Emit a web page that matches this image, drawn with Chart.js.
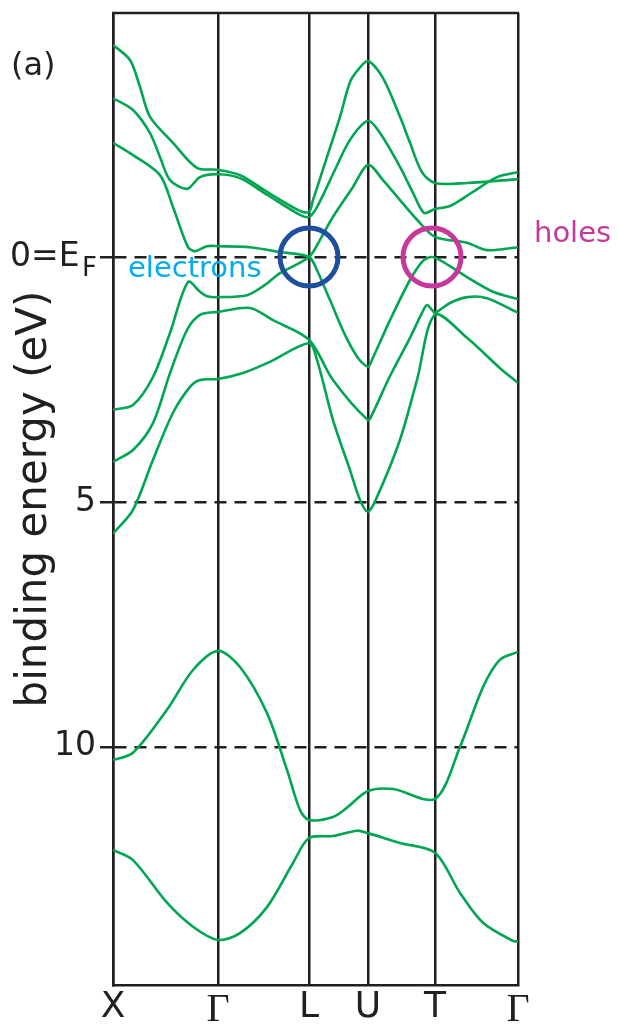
<!DOCTYPE html>
<html>
<head>
<meta charset="utf-8">
<script src="https://cdn.jsdelivr.net/npm/chart.js@4/dist/chart.umd.min.js"></script>
<style>
  body { margin: 0; background: #fff; }
  #wrap { width: 618px; height: 1024px; }
</style>
</head>
<body>
<div id="wrap"><canvas id="bands" width="618" height="1024"></canvas></div>
<script>
// k-path (arbitrary path length units) and labels
const kPos = [0, 105, 196, 255, 322, 405];
const kLabels = ["X", "Γ", "L", "U", "T", "Γ"];
const yTicks = [0, 5, 10];

// bands: k positions and binding energies (eV)
const band1K = [0, 17, 27, 37, 60, 84, 105, 127, 154, 187, 196, 200, 213, 227, 237, 245, 255, 270, 287, 297, 309, 322, 354, 405];
const band1E = [-4.33, -4.02, -3.47, -2.86, -2.33, -1.82, -1.78, -1.67, -1.33, -0.94, -0.92, -1.16, -1.98, -2.86, -3.57, -3.82, -4.00, -3.65, -2.86, -2.33, -1.73, -1.51, -1.51, -1.59];

const band2K = [0, 20, 37, 47, 57, 74, 87, 105, 127, 154, 187, 196, 204, 222, 237, 255, 267, 287, 300, 311, 322, 337, 360, 384, 405];
const band2E = [-3.24, -3.00, -2.53, -2.04, -1.57, -1.39, -1.63, -1.69, -1.61, -1.27, -0.86, -0.82, -1.02, -1.78, -2.39, -2.78, -2.53, -1.84, -1.31, -0.90, -0.98, -1.04, -1.33, -1.63, -1.73];

const band3K = [0, 20, 47, 60, 75, 82, 94, 105, 137, 167, 196, 204, 217, 232, 245, 255, 259, 277, 297, 310, 319, 330, 354, 380, 405];
const band3E = [-2.33, -2.08, -1.67, -1.02, -0.20, -0.12, -0.22, -0.22, -0.20, -0.10, 0, 0.27, 0.88, 1.59, 2.06, 2.24, 2.10, 1.29, 0.47, 0.08, 0, 0.10, 0.41, 0.71, 0.86];

const band4K = [0, 20, 40, 57, 75, 87, 94, 105, 134, 152, 167, 196, 207, 220, 240, 255, 270, 287, 304, 322, 354, 374, 405];
const band4E = [3.12, 3.02, 2.45, 1.55, 0.51, 0.71, 0.80, 0.82, 0.78, 0.57, 0.33, 0, -0.35, -0.82, -1.43, -1.88, -1.57, -1.16, -0.76, -0.41, -0.29, -0.14, -0.20];

const band5K = [0, 20, 40, 57, 74, 87, 105, 137, 160, 196, 220, 255, 259, 277, 297, 309, 314, 319, 322, 337, 354, 374, 405];
const band5E = [4.18, 3.94, 3.39, 2.37, 1.49, 1.18, 1.12, 1.04, 1.29, 1.69, 2.51, 3.33, 3.22, 2.43, 1.65, 1.14, 0.98, 1.08, 1.14, 0.94, 0.82, 0.84, 1.14];

const band6K = [0, 20, 40, 60, 77, 87, 105, 130, 157, 196, 204, 220, 237, 247, 255, 264, 287, 304, 322, 354, 387, 405];
const band6E = [5.65, 5.16, 4.14, 3.18, 2.65, 2.51, 2.49, 2.37, 2.14, 1.76, 2.10, 3.33, 4.35, 4.96, 5.20, 4.90, 3.73, 2.51, 1.18, 1.65, 2.27, 2.57];

const band7K = [0, 20, 54, 80, 105, 127, 154, 174, 187, 196, 220, 234, 255, 280, 322, 347, 370, 387, 405];
const band7E = [10.27, 10.12, 9.24, 8.43, 8.04, 8.37, 9.31, 10.47, 11.29, 11.49, 11.43, 11.24, 10.90, 10.86, 11.06, 10.00, 8.78, 8.22, 8.06];

const band8K = [0, 20, 54, 80, 105, 127, 154, 180, 196, 220, 244, 255, 287, 322, 347, 370, 400, 405];
const band8E = [12.10, 12.31, 13.18, 13.67, 13.94, 13.80, 13.27, 12.37, 11.86, 11.82, 11.71, 11.76, 11.96, 12.16, 12.98, 13.59, 13.96, 13.97];

// marked pockets
const electronPocket = { x: 196, y: 0 };
const holePocket = { x: 319, y: 0 };

const bandK = [band1K, band2K, band3K, band4K, band5K, band6K, band7K, band8K];
const bandE = [band1E, band2E, band3E, band4E, band5E, band6E, band7E, band8E];

const ink = "#231F20";
const green = "#00A651";

const toPoints = (ks, es) => ks.map((k, i) => ({ x: k, y: es[i] }));

const datasets = [
	{
		type: "scatter",
		data: [electronPocket],
		pointRadius: 29,
		borderWidth: 5,
		borderColor: "#1D4F9E",
		backgroundColor: "rgba(0,0,0,0)",
	},
	{
		type: "scatter",
		data: [holePocket],
		pointRadius: 29,
		borderWidth: 5,
		borderColor: "#C8389A",
		backgroundColor: "rgba(0,0,0,0)",
	},
];
bandK.forEach((ks, i) => {
	datasets.push({
		type: "line",
		data: toPoints(ks, bandE[i]),
		borderColor: green,
		borderWidth: 2.6,
		pointRadius: 0,
		tension: 0.3,
		fill: false,
	});
});

// frame top, subscript and the loose labels
const extras = {
	id: "extras",
	afterDraw(chart) {
		const { ctx, chartArea } = chart;
		ctx.save();
		ctx.strokeStyle = ink;
		ctx.lineWidth = 2.5;
		ctx.beginPath();
		ctx.moveTo(chartArea.left - 1, chartArea.top);
		ctx.lineTo(chartArea.right + 1, chartArea.top);
		ctx.stroke();

		ctx.textBaseline = "alphabetic";
		ctx.textAlign = "left";
		ctx.fillStyle = ink;
		ctx.font = "32px 'DejaVu Sans'";
		ctx.fillText("(a)", 11, 75);
		const y0 = chart.scales.y.getPixelForValue(0);
		ctx.font = "26px 'DejaVu Sans'";
		ctx.fillText("F", 82, y0 + 19);

		ctx.font = "29px 'DejaVu Sans'";
		ctx.fillStyle = "#00AEEF";
		ctx.fillText("electrons", 128, y0 + 20);
		ctx.fillStyle = "#C8389A";
		ctx.fillText("holes", 534, y0 - 15);
		ctx.restore();
	},
};

new Chart(document.getElementById("bands"), {
	data: { datasets: datasets },
	plugins: [extras],
	options: {
		responsive: false,
		animation: false,
		events: [],
		layout: { autoPadding: false, padding: { top: 13, right: 100, left: 0, bottom: 0 } },
		plugins: { legend: { display: false }, tooltip: { enabled: false } },
		scales: {
			x: {
				type: "linear",
				min: 0,
				max: 405,
				afterBuildTicks: (s) => { s.ticks = kPos.map((v) => ({ value: v })); },
				afterFit: (s) => {
					s.height = 39;
					s.paddingLeft = 0;
					s.paddingRight = 0;
				},
				ticks: {
					autoSkip: false,
					maxRotation: 0,
					padding: 1,
					color: ink,
					callback: (v, i) => kLabels[i],
					font: (c) => (kLabels[c.index] === "Γ"
						? { family: "'Liberation Serif'", size: 40 }
						: { family: "'DejaVu Sans'", size: 36 }),
				},
				grid: { color: ink, lineWidth: 2.5, drawTicks: false },
				border: { display: true, color: ink, width: 2.5 },
			},
			y: {
				type: "linear",
				reverse: true,
				min: -4.98,
				max: 14.86,
				afterBuildTicks: (s) => { s.ticks = yTicks.map((v) => ({ value: v })); },
				afterFit: (s) => {
					s.width = 113;
					s.paddingTop = 0;
					s.paddingBottom = 0;
				},
				ticks: {
					padding: 4,
					color: ink,
					font: { family: "'DejaVu Sans'", size: 33 },
					callback: (v) => (v === 0 ? "0=E\u2002" : String(v)),
				},
				grid: {
					color: ink,
					lineWidth: 2.5,
					tickLength: 13,
					tickColor: ink,
					tickWidth: 2.5,
					tickBorderDash: [],
				},
				border: { display: true, color: ink, width: 2.5, dash: [12, 8] },
				title: {
					display: true,
					text: "binding energy (eV)",
					color: ink,
					font: { family: "'DejaVu Sans'", size: 42 },
					padding: { top: 10, bottom: 0 },
				},
			},
		},
	},
});
</script>
</body>
</html>
